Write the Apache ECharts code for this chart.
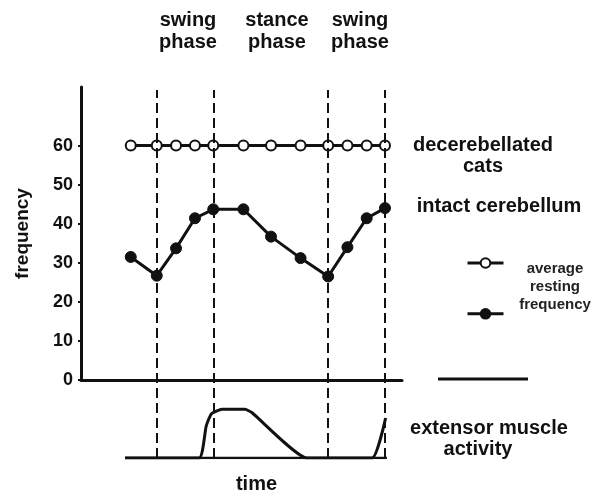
<!DOCTYPE html>
<html>
<head>
<meta charset="utf-8">
<script src="https://cdn.jsdelivr.net/npm/echarts@6/dist/echarts.min.js"></script>
<style>html,body{margin:0;padding:0;background:#fff}#c{width:596px;height:495px}</style>
</head>
<body>
<div id="c"></div>
<script>
// ---- data ----
var timePoints = [15.5, 23.6, 29.6, 35.5, 41.2, 50.6, 59.2, 68.4, 77.0, 83.0, 89.0, 94.7];
var decerebellated = [60, 60, 60, 60, 60, 60, 60, 60, 60, 60, 60, 60];
var intact = [31.5, 26.7, 33.7, 41.4, 43.7, 43.7, 36.7, 31.2, 26.5, 34.0, 41.4, 44.0];
var phaseBoundaries = [23.6, 41.2, 77.0, 94.7];
var phaseLabels = ['swing\nphase', 'stance\nphase', 'swing\nphase'];
var muscleTime = [13.7, 36.8, 39.0, 40.6, 43.9, 51.1, 53.3, 70.4, 90.7, 94.9];
var muscleActivity = [0, 0, 0.55, 0.76, 0.84, 0.84, 0.78, 0, 0, 0.69];
var muscleBaseline = [[13.7, 0], [95.3, 0]];
var yTicks = [0, 10, 20, 30, 40, 50, 60];

var INK = '#111';
var FONT = '"Liberation Sans", Arial, sans-serif';

function pairs(xs, ys) { return xs.map(function (x, i) { return [x, ys[i]]; }); }

var chart = echarts.init(document.getElementById('c'), null, {renderer: 'canvas'});
var option = {
  animation: false,
  backgroundColor: '#fff',
  textStyle: {fontFamily: FONT},
  grid: [
    {left: 81, top: 87, width: 321, height: 293, outerBoundsMode: 'none'},
    {left: 81, top: 400, width: 321, height: 58, outerBoundsMode: 'none'},
    {left: 81, top: 90, width: 321, height: 368, outerBoundsMode: 'none'}
  ],
  xAxis: [
    {gridIndex: 0, type: 'value', min: 0, max: 100,
     axisLine: {show: true, onZero: false, lineStyle: {color: INK, width: 3}},
     axisTick: {show: false}, axisLabel: {show: false}, splitLine: {show: false}},
    {gridIndex: 1, type: 'value', min: 0, max: 100,
     name: 'time', nameLocation: 'middle', nameGap: 16,
     nameTextStyle: {fontSize: 20, fontWeight: 'bold', color: INK, fontFamily: FONT, padding: [0, 0, 0, 30]},
     axisLine: {show: false}, axisTick: {show: false}, axisLabel: {show: false}, splitLine: {show: false}},
    {gridIndex: 2, type: 'value', min: 0, max: 100, show: false}
  ],
  yAxis: [
    {gridIndex: 0, type: 'value', min: 0, max: 75,
     name: 'frequency', nameLocation: 'middle', nameGap: 49, nameRotate: 90,
     nameTextStyle: {fontSize: 19, fontWeight: 'bold', color: INK, fontFamily: FONT},
     axisLine: {show: true, lineStyle: {color: INK, width: 3}},
     axisTick: {show: true, customValues: yTicks, length: 3, lineStyle: {color: INK, width: 2}},
     axisLabel: {show: true, customValues: yTicks, margin: 8, fontSize: 18, fontWeight: 'bold', color: INK, fontFamily: FONT},
     splitLine: {show: false}},
    {gridIndex: 1, type: 'value', min: 0, max: 1, show: false},
    {gridIndex: 2, type: 'value', min: 0, max: 1, show: false}
  ],
  legend: {
    orient: 'vertical', left: 461, top: 252,
    itemWidth: 36, itemHeight: 12, itemGap: 39,
    data: ['decerebellated cats', 'intact cerebellum'],
    formatter: function () { return ''; },
    lineStyle: {width: 3},
    selectedMode: false
  },
  series: [
    {name: 'dividers', type: 'line', xAxisIndex: 2, yAxisIndex: 2, data: [], silent: true,
     markLine: {silent: true, symbol: 'none', label: {show: false},
       lineStyle: {color: INK, width: 2, type: [10, 5]},
       data: phaseBoundaries.map(function (v) { return {xAxis: v}; })}},
    {name: 'decerebellated cats', type: 'line', xAxisIndex: 0, yAxisIndex: 0,
     data: pairs(timePoints, decerebellated),
     symbol: 'circle', symbolSize: 10, showAllSymbol: true,
     lineStyle: {color: INK, width: 3},
     itemStyle: {color: '#fff', borderColor: INK, borderWidth: 2}, z: 3},
    {name: 'intact cerebellum', type: 'line', xAxisIndex: 0, yAxisIndex: 0,
     data: pairs(timePoints, intact),
     symbol: 'circle', symbolSize: 11, showAllSymbol: true,
     lineStyle: {color: INK, width: 3},
     itemStyle: {color: INK, borderColor: INK, borderWidth: 1}, z: 3},
    {name: 'baseline', type: 'line', xAxisIndex: 1, yAxisIndex: 1,
     data: muscleBaseline, symbol: 'none', lineStyle: {color: INK, width: 2.5}},
    {name: 'extensor muscle activity', type: 'line', xAxisIndex: 1, yAxisIndex: 1,
     data: pairs(muscleTime, muscleActivity), symbol: 'none', smooth: 0.15,
     lineStyle: {color: INK, width: 3}}
  ],
  graphic: [
    {type: 'text', style: {text: phaseLabels[0], x: 188, y: 31, textAlign: 'center', textVerticalAlign: 'middle', fontSize: 20, fontWeight: 'bold', lineHeight: 22, fill: INK, fontFamily: FONT}},
    {type: 'text', style: {text: phaseLabels[1], x: 277, y: 31, textAlign: 'center', textVerticalAlign: 'middle', fontSize: 20, fontWeight: 'bold', lineHeight: 22, fill: INK, fontFamily: FONT}},
    {type: 'text', style: {text: phaseLabels[2], x: 360, y: 31, textAlign: 'center', textVerticalAlign: 'middle', fontSize: 20, fontWeight: 'bold', lineHeight: 22, fill: INK, fontFamily: FONT}},
    {type: 'text', style: {text: 'decerebellated\ncats', x: 483, y: 156, textAlign: 'center', textVerticalAlign: 'middle', fontSize: 20, fontWeight: 'bold', lineHeight: 21, fill: INK, fontFamily: FONT}},
    {type: 'text', style: {text: 'intact cerebellum', x: 499, y: 206, textAlign: 'center', textVerticalAlign: 'middle', fontSize: 20, fontWeight: 'bold', fill: INK, fontFamily: FONT}},
    {type: 'text', style: {text: 'average\nresting\nfrequency', x: 555, y: 287, textAlign: 'center', textVerticalAlign: 'middle', fontSize: 15, fontWeight: 'bold', lineHeight: 18, fill: '#222', fontFamily: FONT}},
    {type: 'text', style: {text: 'extensor muscle', x: 489, y: 428, textAlign: 'center', textVerticalAlign: 'middle', fontSize: 20, fontWeight: 'bold', fill: INK, fontFamily: FONT}},
    {type: 'text', style: {text: 'activity', x: 478, y: 449, textAlign: 'center', textVerticalAlign: 'middle', fontSize: 20, fontWeight: 'bold', fill: INK, fontFamily: FONT}},
    {type: 'line', shape: {x1: 438, y1: 379, x2: 528, y2: 379}, style: {stroke: INK, lineWidth: 3}}
  ]
};
chart.setOption(option);
</script>
</body>
</html>
